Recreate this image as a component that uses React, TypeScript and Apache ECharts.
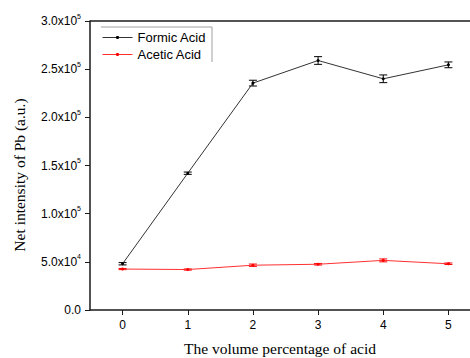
import React, { useEffect, useRef } from "react";
import * as echarts from "echarts";

const categories = ["0", "1", "2", "3", "4", "5"];
const formic = [48000, 142000, 235500, 259000, 240000, 254500];
const formicErr = [1200, 1200, 3000, 4000, 4000, 3000];
const acetic = [42500, 42000, 46500, 47500, 51500, 48000];
const aceticErr = [600, 600, 1200, 800, 1500, 800];

function fmtY(v: number): string {
  if (v === 0) return "0.0";
  const e = Math.floor(Math.log10(v));
  const m = v / Math.pow(10, e);
  return `${m.toFixed(1)}x10{sup|${e}}`;
}

function errData(vals: number[], errs: number[]) {
  return vals.map((v, i) => [i, v - errs[i], v + errs[i]]);
}

function errSeries(name: string, vals: number[], errs: number[], color: string) {
  return {
    type: "custom",
    name: name + " err",
    data: errData(vals, errs),
    encode: { x: 0, y: [1, 2] },
    silent: true,
    z: 3,
    renderItem: (params: any, api: any) => {
      const x = api.value(0);
      const lo = api.coord([x, api.value(1)]);
      const hi = api.coord([x, api.value(2)]);
      const w = 4;
      const style = { stroke: color, lineWidth: 1 };
      return {
        type: "group",
        children: [
          { type: "line", shape: { x1: lo[0], y1: lo[1], x2: hi[0], y2: hi[1] }, style },
          { type: "line", shape: { x1: lo[0] - w, y1: lo[1], x2: lo[0] + w, y2: lo[1] }, style },
          { type: "line", shape: { x1: hi[0] - w, y1: hi[1], x2: hi[0] + w, y2: hi[1] }, style },
        ],
      };
    },
  };
}

export default function App() {
  const ref = useRef<HTMLDivElement>(null);
  useEffect(() => {
    if (!ref.current) return;
    const chart = echarts.init(ref.current, undefined, { renderer: "svg" });
    const axisColor = "#1a1a1a";
    chart.setOption({
      animation: false,
      backgroundColor: "#ffffff",
      grid: { left: 90, top: 21, width: 391, height: 289, show: false },
      legend: {
        orient: "vertical",
        left: 100,
        top: 29,
        itemWidth: 30,
        itemHeight: 4,
        itemGap: 4,
        data: ["Formic Acid", "Acetic Acid"],
        lineStyle: { width: 1 },
        textStyle: { fontFamily: "Liberation Sans, Arial", fontSize: 13, color: "#000" },
        padding: [2, 4, 2, 2],
      },
      xAxis: {
        type: "category",
        data: categories,
        boundaryGap: true,
        axisLine: { show: true, lineStyle: { color: axisColor, width: 1.5 } },
        axisTick: { show: true, alignWithLabel: true, length: 5, lineStyle: { color: axisColor } },
        axisLabel: { fontFamily: "Liberation Sans, Arial", fontSize: 12, color: "#000", margin: 9 },
        splitLine: { show: false },
      },
      yAxis: {
        type: "value",
        min: 0,
        max: 300000,
        interval: 50000,
        axisLine: { show: true, lineStyle: { color: axisColor, width: 1.5 } },
        axisTick: { show: true, length: 5, lineStyle: { color: axisColor } },
        axisLabel: {
          fontFamily: "Liberation Sans, Arial",
          fontSize: 12,
          color: "#000",
          margin: 9,
          formatter: (v: number) => fmtY(v),
          rich: {
            sup: { fontSize: 7, fontFamily: "Liberation Sans, Arial", color: "#000", padding: [0, 0, 10, 0] },
          },
        },
        splitLine: { show: false },
      },
      graphic: [
        {
          type: "line",
          shape: { x1: 90, y1: 21, x2: 481, y2: 21 },
          style: { stroke: axisColor, lineWidth: 1.5 },
          z: 10,
        },
        {
          type: "polyline",
          shape: { points: [[101, 27], [212, 27], [212, 62]] },
          style: { stroke: "#a0a0a0", lineWidth: 1, fill: "none" },
          z: 10,
        },
        {
          type: "text",
          x: 19,
          y: 175,
          rotation: Math.PI / 2,
          style: {
            text: "Net intensity of Pb (a.u.)",
            fontFamily: "Liberation Serif, Times New Roman",
            fontSize: 15.5,
            fill: "#000",
            textAlign: "center",
            textVerticalAlign: "middle",
          },
        },
        {
          type: "text",
          x: 280,
          y: 348,
          style: {
            text: "The volume percentage of acid",
            fontFamily: "Liberation Serif, Times New Roman",
            fontSize: 15.5,
            fill: "#000",
            textAlign: "center",
            textVerticalAlign: "middle",
          },
        },
      ],
      series: [
        {
          name: "Formic Acid",
          type: "line",
          data: formic,
          symbol: "circle",
          symbolSize: 3,
          itemStyle: { color: "#000" },
          lineStyle: { color: "#333", width: 1 },
          z: 4,
        },
        {
          name: "Acetic Acid",
          type: "line",
          data: acetic,
          symbol: "circle",
          symbolSize: 3,
          itemStyle: { color: "#ff0000" },
          lineStyle: { color: "#ff3030", width: 1 },
          z: 4,
        },
        errSeries("Formic Acid", formic, formicErr, "#000"),
        errSeries("Acetic Acid", acetic, aceticErr, "#ff0000"),
      ],
    });
    return () => chart.dispose();
  }, []);
  return (
    <div
      ref={ref}
      style={{ position: "fixed", left: 0, top: 0, width: 482, height: 358, background: "#fff" }}
    />
  );
}
